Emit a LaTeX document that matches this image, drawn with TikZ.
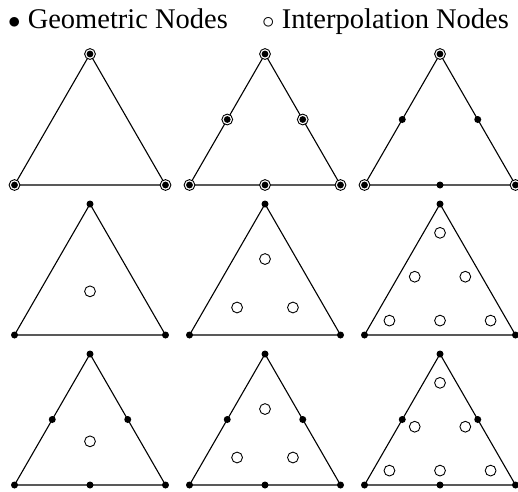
\documentclass[tikz,border=0pt]{standalone}
\usepackage{fontspec}
\setmainfont{Liberation Serif}
\usepackage{tikz}
\usetikzlibrary{calc}

\begin{document}
\begin{tikzpicture}[
  x=1pt, y=-1pt,
  edge/.style={draw=black, line width=1.1pt},
  geo/.style={circle, fill=black, inner sep=0pt, minimum size=7pt},
  interp/.style={circle, draw=black, line width=0.9pt, fill=white, inner sep=0pt, minimum size=10.8pt},
  both/.style={interp, path picture={\fill[black] (path picture bounding box.center) circle (3.4pt);}},
  legend/.style={anchor=base west, inner sep=0pt, font=\fontsize{28.5}{34}\selectfont}
]
\useasboundingbox (0,0) rectangle (518,491);

% legend
\node[legend] (leggeo) at (8,28) {$\bullet$ Geometric Nodes};
\node[legend] (leginterp) at (262,28) {$\circ$ Interpolation Nodes};

% triangle corners: apex, left, right
\coordinate (a1) at (90,54);  \coordinate (l1) at (14.5,185);  \coordinate (r1) at (165.5,185);
\coordinate (a2) at (265,54); \coordinate (l2) at (189.5,185); \coordinate (r2) at (340.5,185);
\coordinate (a3) at (440,54); \coordinate (l3) at (364.5,185); \coordinate (r3) at (515.5,185);
\coordinate (a4) at (90,204);  \coordinate (l4) at (14.5,335);  \coordinate (r4) at (165.5,335);
\coordinate (a5) at (265,204); \coordinate (l5) at (189.5,335); \coordinate (r5) at (340.5,335);
\coordinate (a6) at (440,204); \coordinate (l6) at (364.5,335); \coordinate (r6) at (515.5,335);
\coordinate (a7) at (90,354);  \coordinate (l7) at (14.5,485);  \coordinate (r7) at (165.5,485);
\coordinate (a8) at (265,354); \coordinate (l8) at (189.5,485); \coordinate (r8) at (340.5,485);
\coordinate (a9) at (440,354); \coordinate (l9) at (364.5,485); \coordinate (r9) at (515.5,485);

\foreach \t in {1,...,9}
  \draw[edge] (a\t) -- (l\t) -- (r\t) -- cycle;

% edge midpoints
\foreach \t in {2,3,7,8,9} {
  \coordinate (ml\t) at ($(a\t)!0.5!(l\t)$);
  \coordinate (mr\t) at ($(a\t)!0.5!(r\t)$);
  \coordinate (mb\t) at ($(l\t)!0.5!(r\t)$);
}

% first row: corners carry both kinds
\foreach \t in {1,2,3}
  \foreach \v in {a,l,r}
    \node[both] (n-\v\t) at (\v\t) {};
\foreach \v in {ml,mr,mb}
  \node[both] (n-\v2) at (\v2) {};
\foreach \v in {ml,mr,mb}
  \node[geo] (n-\v3) at (\v3) {};

% other rows: geometric corners and midpoints
\foreach \t in {4,...,9}
  \foreach \v in {a,l,r}
    \node[geo] (n-\v\t) at (\v\t) {};
\foreach \t in {7,8,9}
  \foreach \v in {ml,mr,mb}
    \node[geo] (n-\v\t) at (\v\t) {};

% interior interpolation nodes
\foreach \t in {4,7}
  \node[interp] (c\t) at ($1/3*(a\t)+1/3*(l\t)+1/3*(r\t)$) {};
\foreach \t in {5,8} {
  \node[interp] (pa\t) at ($0.58*(a\t)+0.21*(l\t)+0.21*(r\t)$) {};
  \node[interp] (pl\t) at ($0.21*(a\t)+0.58*(l\t)+0.21*(r\t)$) {};
  \node[interp] (pr\t) at ($0.21*(a\t)+0.21*(l\t)+0.58*(r\t)$) {};
}
\foreach \t in {6,9} {
  \node[interp] (pa\t) at ($0.78*(a\t)+0.11*(l\t)+0.11*(r\t)$) {};
  \node[interp] (pl\t) at ($0.11*(a\t)+0.78*(l\t)+0.11*(r\t)$) {};
  \node[interp] (pr\t) at ($0.11*(a\t)+0.11*(l\t)+0.78*(r\t)$) {};
  \node[interp] (qml\t) at ($0.445*(a\t)+0.445*(l\t)+0.11*(r\t)$) {};
  \node[interp] (qmr\t) at ($0.445*(a\t)+0.11*(l\t)+0.445*(r\t)$) {};
  \node[interp] (qmb\t) at ($0.11*(a\t)+0.445*(l\t)+0.445*(r\t)$) {};
}
\end{tikzpicture}
\end{document}
